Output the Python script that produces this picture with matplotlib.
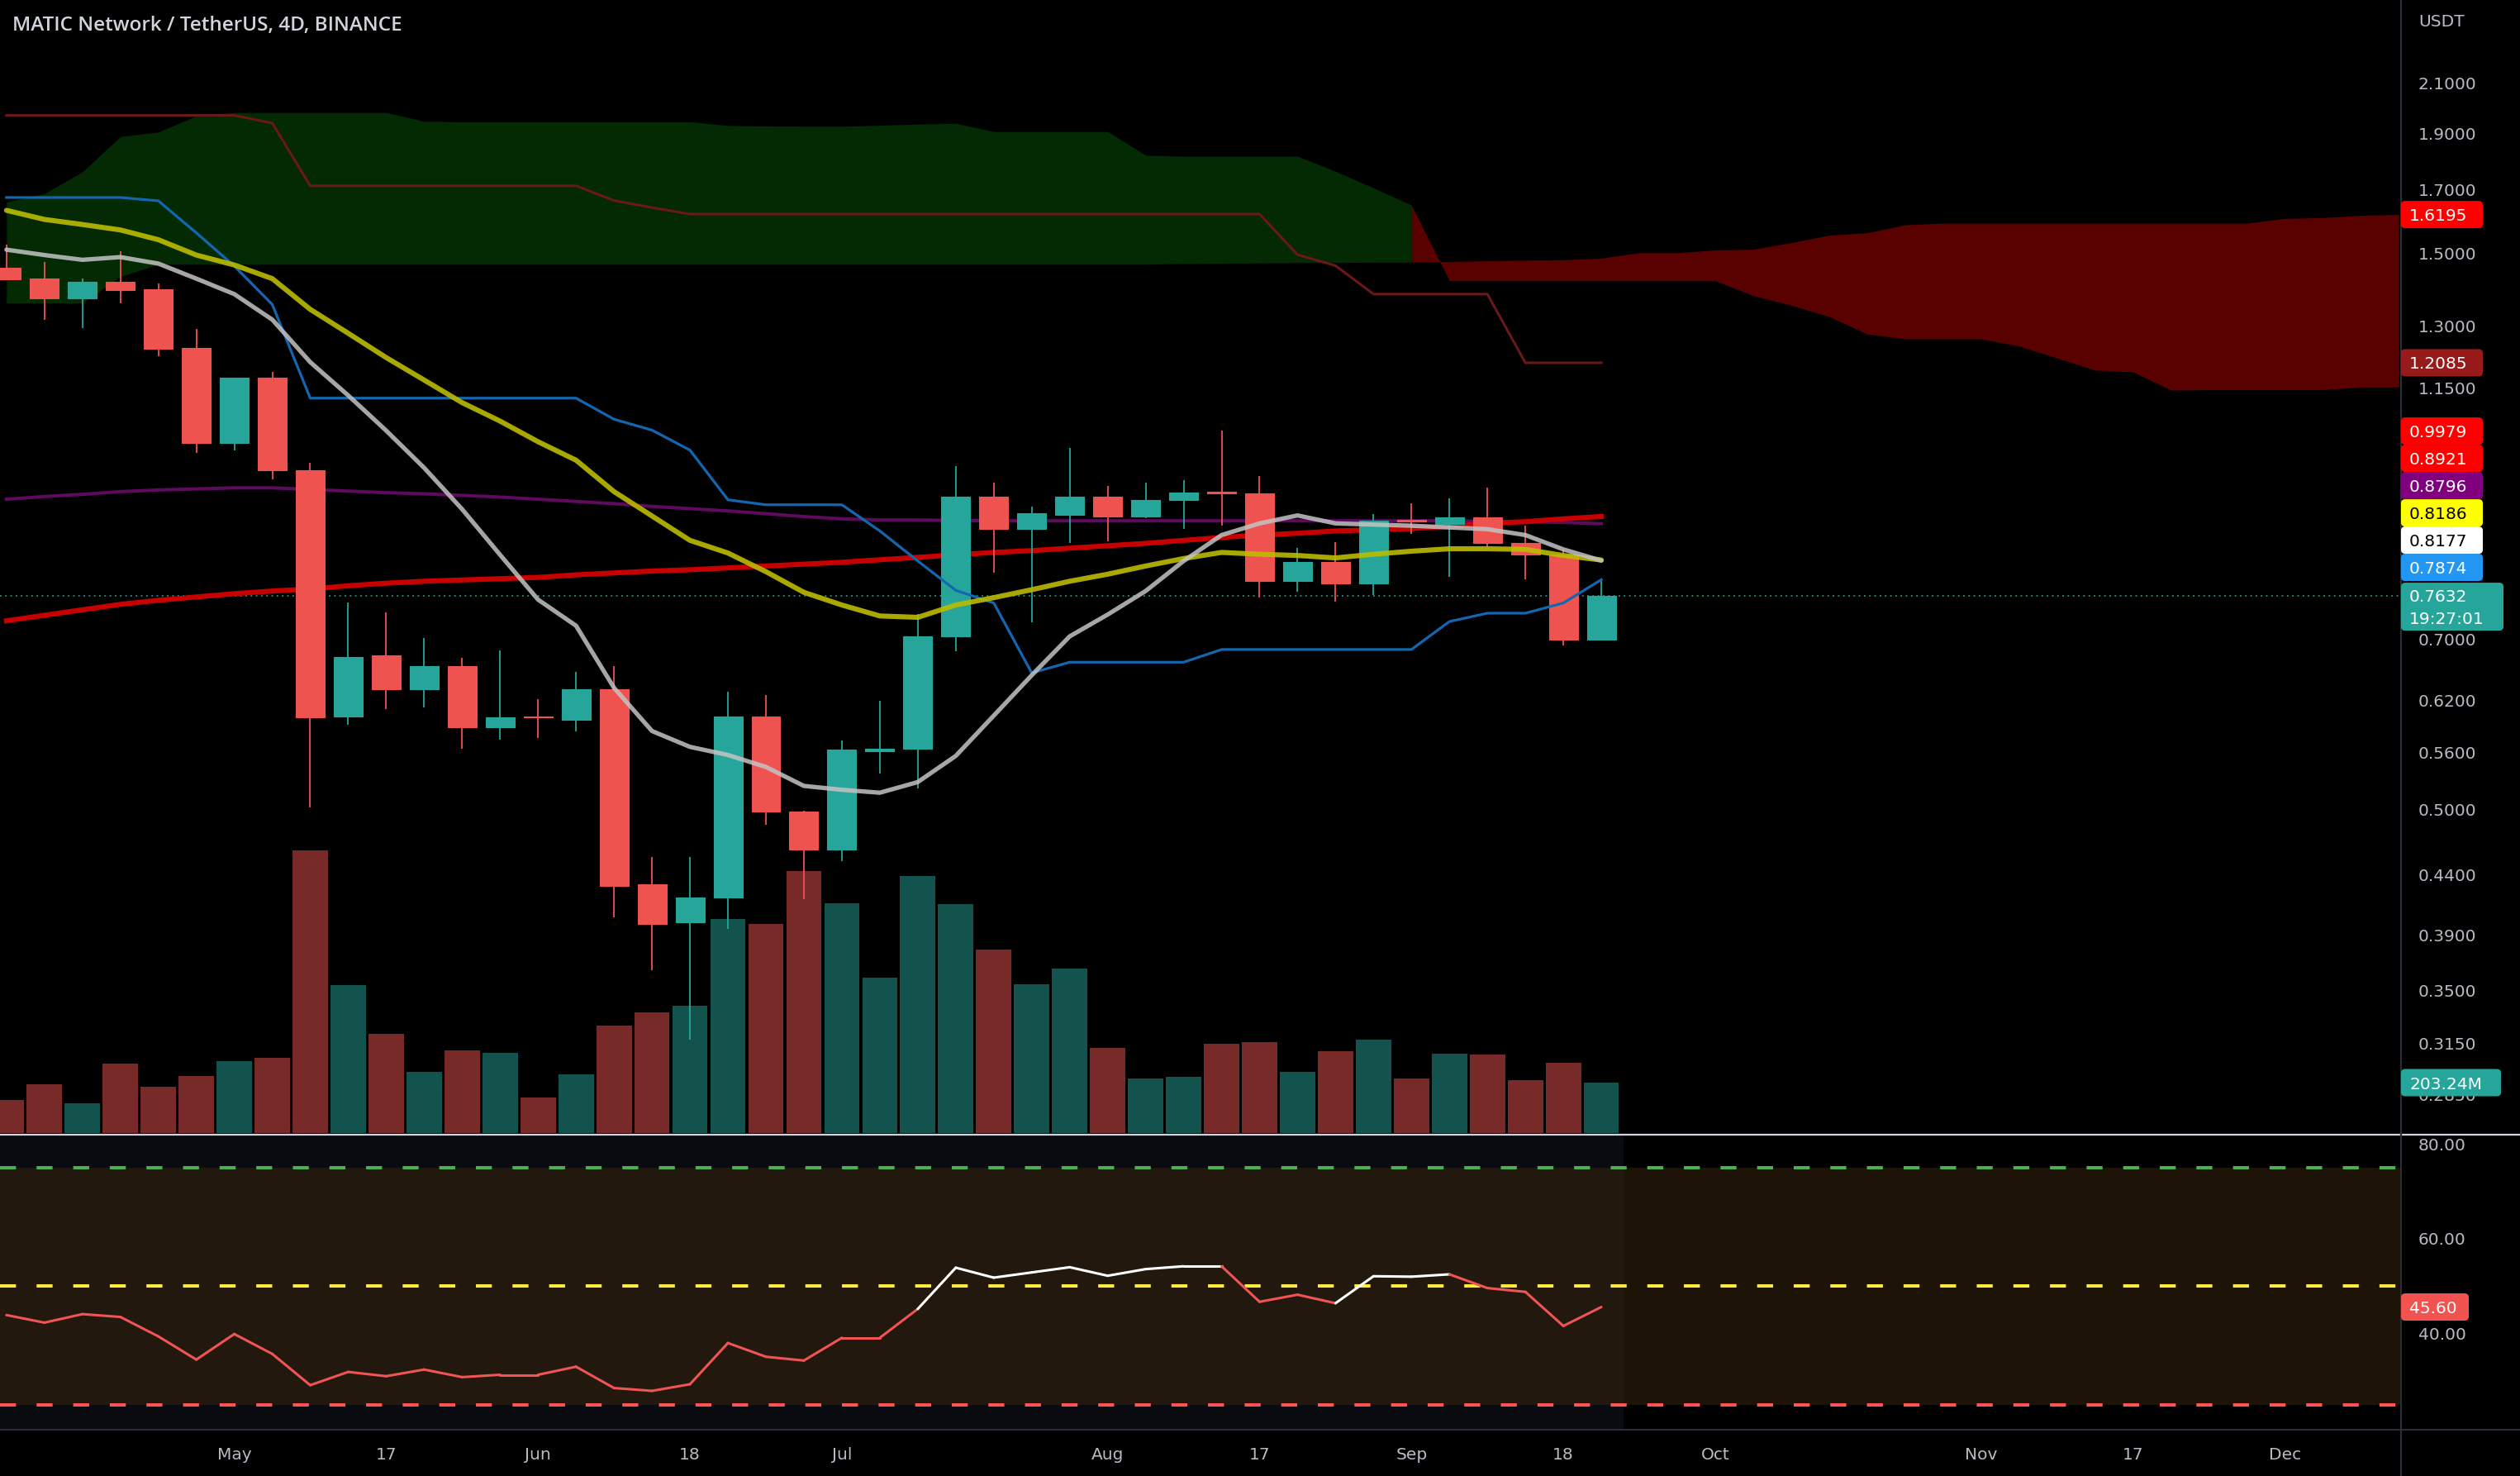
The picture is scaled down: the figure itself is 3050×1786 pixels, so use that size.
import numpy as np
import matplotlib
matplotlib.use("Agg")
import matplotlib.pyplot as plt
import matplotlib.transforms as mtransforms
from matplotlib.patches import FancyBboxPatch
from matplotlib.lines import Line2D
from matplotlib.collections import LineCollection

# ---------------- data ----------------
title = "MATIC Network / TetherUS, 4D, BINANCE"
opens = [1.458, 1.427, 1.373, 1.418, 1.397, 1.244, 1.032, 1.174, 0.978, 0.601,
         0.678, 0.634, 0.664, 0.588, 0.601, 0.5975, 0.634, 0.4315, 0.400, 0.4205,
         0.601, 0.498, 0.462, 0.561, 0.564, 0.704, 0.927, 0.871, 0.895, 0.928,
         0.8915, 0.922, 0.937, 0.934, 0.7855, 0.815, 0.782, 0.886, 0.8795, 0.8905,
         0.846, 0.828, 0.700]
highs = [1.525, 1.474, 1.427, 1.507, 1.413, 1.292, 1.174, 1.187, 0.992, 0.753,
         0.738, 0.702, 0.675, 0.685, 0.622, 0.6565, 0.664, 0.455, 0.455, 0.631,
         0.627, 0.499, 0.573, 0.620, 0.736, 0.986, 0.954, 0.910, 1.021, 0.948,
         0.953, 0.958, 1.0565, 0.9665, 0.839, 0.848, 0.896, 0.916, 0.925, 0.945,
         0.876, 0.836, 0.788]
lows = [1.423, 1.315, 1.295, 1.360, 1.225, 1.012, 1.016, 0.960, 0.502, 0.591,
        0.610, 0.612, 0.564, 0.5745, 0.576, 0.584, 0.404, 0.364, 0.3175, 0.395,
        0.4855, 0.419, 0.452, 0.537, 0.521, 0.684, 0.798, 0.724, 0.847, 0.8495,
        0.889, 0.870, 0.8755, 0.760, 0.769, 0.7545, 0.764, 0.862, 0.792, 0.8415,
        0.788, 0.692, 0.700]
closes = [1.426, 1.373, 1.418, 1.396, 1.243, 1.032, 1.174, 0.977, 0.600, 0.676,
          0.634, 0.664, 0.588, 0.600, 0.5995, 0.634, 0.430, 0.399, 0.4205, 0.601,
          0.498, 0.462, 0.563, 0.564, 0.704, 0.927, 0.871, 0.898, 0.928, 0.8915,
          0.922, 0.936, 0.934, 0.7855, 0.815, 0.782, 0.885, 0.883, 0.8905, 0.846,
          0.828, 0.700, 0.7632]
volumes_m = [133, 197, 120, 281, 187, 230, 290, 303, 1139, 596,
             400, 248, 333, 323, 143, 237, 433, 486, 513, 863,
             843, 1056, 926, 626, 1036, 923, 740, 600, 663, 343,
             220, 227, 360, 366, 247, 330, 376, 220, 320, 316,
             213, 283, 203.24]
ma_gray = [1.511, 1.495, 1.481, 1.489, 1.470, 1.427, 1.384, 1.316, 1.210, 1.133,
           1.057, 0.982, 0.905, 0.827, 0.757, 0.719, 0.636, 0.584, 0.566, 0.557,
           0.544, 0.524, 0.520, 0.517, 0.528, 0.556, 0.602, 0.652, 0.704, 0.735,
           0.770, 0.817, 0.860, 0.880, 0.894, 0.880, 0.878, 0.876, 0.873, 0.870,
           0.860, 0.836, 0.8177]
ma_yellow = [1.633, 1.604, 1.588, 1.571, 1.541, 1.495, 1.466, 1.427, 1.343, 1.281,
             1.221, 1.168, 1.117, 1.077, 1.034, 0.997, 0.937, 0.893, 0.851, 0.830,
             0.800, 0.768, 0.749, 0.733, 0.731, 0.749, 0.760, 0.772, 0.785, 0.796,
             0.809, 0.821, 0.831, 0.828, 0.826, 0.822, 0.828, 0.833, 0.837, 0.837,
             0.836, 0.826, 0.8186]
ma_purple = [0.923, 0.928, 0.932, 0.937, 0.940, 0.942, 0.944, 0.944, 0.941, 0.938,
             0.935, 0.933, 0.930, 0.927, 0.923, 0.919, 0.915, 0.910, 0.906, 0.902,
             0.897, 0.892, 0.888, 0.886, 0.886, 0.885, 0.8845, 0.8845, 0.8845, 0.8845,
             0.8845, 0.8845, 0.8845, 0.8845, 0.8845, 0.8845, 0.8845, 0.8845, 0.8845, 0.8836,
             0.8827, 0.8817, 0.8796]
ma_red = [0.726, 0.734, 0.742, 0.750, 0.756, 0.761, 0.766, 0.770, 0.773, 0.778,
          0.782, 0.785, 0.787, 0.789, 0.791, 0.795, 0.798, 0.801, 0.803, 0.806,
          0.809, 0.812, 0.815, 0.819, 0.823, 0.827, 0.831, 0.834, 0.838, 0.842,
          0.846, 0.851, 0.856, 0.860, 0.863, 0.867, 0.869, 0.871, 0.875, 0.880,
          0.883, 0.888, 0.8921]
tenkan = [1.675, 1.675, 1.675, 1.675, 1.664, 1.562, 1.463, 1.356, 1.127, 1.127,
          1.127, 1.127, 1.127, 1.127, 1.127, 1.127, 1.081, 1.058, 1.017, 0.922,
          0.913, 0.913, 0.913, 0.867, 0.817, 0.771, 0.752, 0.655, 0.669, 0.669,
          0.669, 0.669, 0.686, 0.686, 0.686, 0.686, 0.686, 0.686, 0.725, 0.737,
          0.737, 0.752, 0.7874]
kijun = [1.970, 1.970, 1.970, 1.970, 1.970, 1.970, 1.970, 1.940, 1.714, 1.714,
         1.714, 1.714, 1.714, 1.714, 1.714, 1.714, 1.665, 1.642, 1.621, 1.621,
         1.621, 1.621, 1.621, 1.621, 1.621, 1.621, 1.621, 1.621, 1.621, 1.621,
         1.621, 1.621, 1.621, 1.621, 1.496, 1.464, 1.384, 1.384, 1.384, 1.384,
         1.2085, 1.2085, 1.2085]
# leading spans (already displaced forward), bars 0..63
span_a = [1.660, 1.688, 1.762, 1.889, 1.906, 1.968, 1.981, 1.981, 1.981, 1.981,
          1.981, 1.947, 1.945, 1.945, 1.945, 1.945, 1.945, 1.945, 1.945, 1.931,
          1.929, 1.928, 1.928, 1.932, 1.936, 1.939, 1.908, 1.908, 1.908, 1.908,
          1.821, 1.817, 1.817, 1.817, 1.817, 1.764, 1.707, 1.650, 1.421, 1.421,
          1.421, 1.421, 1.421, 1.421, 1.421, 1.421, 1.380, 1.354, 1.324, 1.279,
          1.267, 1.267, 1.267, 1.249, 1.220, 1.191, 1.187, 1.145, 1.146, 1.146,
          1.146, 1.146, 1.152, 1.152]
span_b = [1.360, 1.360, 1.360, 1.433, 1.468, 1.468, 1.468, 1.468, 1.468, 1.468,
          1.468, 1.468, 1.468, 1.468, 1.468, 1.468, 1.468, 1.468, 1.468, 1.468,
          1.468, 1.468, 1.468, 1.468, 1.468, 1.468, 1.468, 1.468, 1.468, 1.468,
          1.468, 1.470, 1.471, 1.472, 1.473, 1.473, 1.474, 1.474, 1.476, 1.478,
          1.480, 1.481, 1.486, 1.502, 1.502, 1.510, 1.512, 1.532, 1.555, 1.562,
          1.587, 1.592, 1.592, 1.592, 1.592, 1.592, 1.592, 1.592, 1.592, 1.592,
          1.607, 1.610, 1.617, 1.6195]
rsi = [43.9, 42.3, 44.1, 43.5, 39.4, 34.5, 39.9, 35.7, 29.1, 31.9,
       31.0, 32.4, 30.8, 31.3, 31.3, 33.0, 28.5, 27.9, 29.3, 38.0,
       35.1, 34.3, 39.1, 39.1, 45.2, 53.9, 51.8, 52.9, 54.0, 52.2,
       53.6, 54.2, 54.2, 46.7, 48.2, 46.4, 52.1, 52.0, 52.5, 49.6,
       48.8, 41.6, 45.6]
extra_level = 0.9979
last_time = "19:27:01"
price_ticks = [2.1, 1.9, 1.7, 1.5, 1.3, 1.15, 0.7, 0.62, 0.56, 0.5, 0.44, 0.39, 0.35, 0.315, 0.285]
rsi_ticks = [80, 60, 40]
rsi_levels = [75, 50, 25]
date_labels = ["May", "17", "Jun", "18", "Jul", "Aug", "17", "Sep", "18", "Oct", "Nov", "17", "Dec"]
date_pos = [6, 10, 14, 18, 22, 29, 33, 37, 41, 45, 52, 56, 60]

# ---------------- layout ----------------
W, H, DPI = 3050, 1786, 100
PLOT_R = 2906
MAIN_BOT = 1371
RSI_TOP, RSI_BOT = 1374, 1730
XLIM = (-0.17, 63.06)
PRICE_LIM = (0.2640, 2.474)
VOL_YMAX = 4568
RSI_LIM = (19.7, 81.8)
AX_TXT = '#b8bbc4'
UP, DN = '#26a69a', '#ef5350'
FS = 14.5

plt.rcParams['font.family'] = ['DejaVu Sans']

fig = plt.figure(figsize=(W / DPI, H / DPI), dpi=DPI, facecolor='black')


def frac(x0, y0, x1, y1):
    return [x0 / W, 1 - y1 / H, (x1 - x0) / W, (y1 - y0) / H]


ax_vol = fig.add_axes(frac(0, 0, PLOT_R, MAIN_BOT))
ax = fig.add_axes(frac(0, 0, PLOT_R, MAIN_BOT))
ax_r = fig.add_axes(frac(0, RSI_TOP, PLOT_R, RSI_BOT))
for a in (ax_vol, ax, ax_r):
    a.set_xlim(*XLIM)
    a.axis('off')

x = np.arange(len(closes))
o, h, l, c = map(np.array, (opens, highs, lows, closes))
up = c >= o

# volume
ax_vol.set_ylim(0, VOL_YMAX)
ax_vol.bar(x, volumes_m, width=0.93, color=np.where(up, '#13534d', '#782a28'), linewidth=0)

# main pane
ax.set_yscale('log')
ax.set_ylim(*PRICE_LIM)

# ichimoku cloud
xs = np.arange(len(span_a))
A, B = np.array(span_a), np.array(span_b)
seg_green = A[1:] > B[1:]
start = 0
for k in range(1, len(seg_green) + 1):
    if k == len(seg_green) or seg_green[k] != seg_green[start]:
        sl = slice(start, k + 1)
        ax.fill_between(xs[sl], A[sl], B[sl], color='#032a03' if seg_green[start] else '#590000',
                        lw=0, zorder=1)
        start = k

# lines
ax.plot(x, ma_purple, color='#5e0b5e', lw=2.9, zorder=3)
ax.plot(x, ma_red, color='#c80000', lw=4.4, zorder=3)
ax.plot(x, kijun, color='#6b1818', lw=2.2, zorder=3)

# last price dotted line
ax.axhline(closes[-1], color=UP, lw=1.3, ls=(0, (1, 2.5)), alpha=0.9, zorder=2)

# candles
cols = np.where(up, UP, DN)
ax.vlines(x, l, h, colors=cols, lw=1.3, zorder=4)
ax.bar(x, np.maximum(o, c) - np.minimum(o, c), bottom=np.minimum(o, c), width=0.76,
       color=cols, edgecolor=cols, linewidth=0.8, zorder=5)

ax.plot(x, tenkan, color='#1267b0', lw=2.3, zorder=6)
ax.plot(x, ma_yellow, color='#bcbc00', lw=4.4, alpha=0.9, zorder=6, solid_capstyle='round')
ax.plot(x, ma_gray, color='#c4c4c4', lw=3.8, alpha=0.85, zorder=6, solid_capstyle='round')

# RSI pane
ax_r.set_ylim(*RSI_LIM)
split = 42.58
ax_r.fill_between([XLIM[0], split], RSI_LIM[0], RSI_LIM[1], color='#090b10', lw=0, zorder=0)
ax_r.fill_between([XLIM[0], split], rsi_levels[2], rsi_levels[0], color='#23180d', lw=0, zorder=1)
ax_r.fill_between([split, XLIM[1]], rsi_levels[2], rsi_levels[0], color='#1e1307', lw=0, zorder=1)
for lev, col in zip(rsi_levels, ['#4caf50', '#ffeb3b', '#ff5252']):
    ax_r.axhline(lev, color=col, lw=2.9, ls=(0, (4.8, 6.2)), zorder=2)
pts = np.column_stack([x, rsi])
segs = np.stack([pts[:-1], pts[1:]], axis=1)
rcols = ['#ffffff' if v > 50 else '#f05454' for v in rsi[1:]]
ax_r.add_collection(LineCollection(segs, colors=rcols, linewidths=2.2, zorder=3,
                                   capstyle='round', joinstyle='round'))

# separators
fig.add_artist(Line2D([0, 1], [1 - 1372.5 / H] * 2, transform=fig.transFigure, color='#d1d4dc', lw=1.6))
fig.add_artist(Line2D([0, 1], [1 - RSI_BOT / H] * 2, transform=fig.transFigure, color='#2a2e39', lw=1.5))
fig.add_artist(Line2D([PLOT_R / W] * 2, [0, 1], transform=fig.transFigure, color='#2a2e39', lw=1.5))

# title
fig.text(15 / W, 1 - 31 / H, title, color='#d1d4dc', fontsize=17.5, va='center', ha='left',
         family=['Open Sans', 'DejaVu Sans'], fontweight='semibold')

# axis texts
TX = 2927
bt_main = mtransforms.blended_transform_factory(fig.transFigure, ax.transData)
for p in price_ticks:
    fig.text(TX / W, p, f"{p:.4f}", transform=bt_main, color=AX_TXT, fontsize=FS,
             va='center_baseline', ha='left', zorder=5)
fig.text(TX / W, 1 - 25 / H, "USDT", color=AX_TXT, fontsize=FS, va='center_baseline', ha='left')
bt_rsi = mtransforms.blended_transform_factory(fig.transFigure, ax_r.transData)
for t in rsi_ticks:
    fig.text(TX / W, t, f"{t:.2f}", transform=bt_rsi, color=AX_TXT, fontsize=FS,
             va='center_baseline', ha='left', zorder=5)
bt_date = mtransforms.blended_transform_factory(ax_r.transData, fig.transFigure)
for lab, pos in zip(date_labels, date_pos):
    fig.text(pos, 1 - 1758 / H, lab, transform=bt_date, color=AX_TXT, fontsize=FS,
             va='center_baseline', ha='center')

# value badges on the price scale
IDT = mtransforms.IdentityTransform()


def ytop(axis, v):
    return H - axis.transData.transform((0, v))[1]


def badge(yc, w, hgt, bg, lines, fg):
    fig.add_artist(FancyBboxPatch((PLOT_R, H - (yc + hgt / 2)), w, hgt,
                                  boxstyle="round,pad=0,rounding_size=5", transform=IDT,
                                  fc=bg, ec='none', zorder=10))
    for i, s in enumerate(lines):
        fig.text(2916, H - (yc + i * 27), s, transform=IDT, color=fg, fontsize=FS,
                 va='center_baseline', ha='left', zorder=11)


BH = 33
badge(ytop(ax, span_b[-1]), 99, BH, '#ff0000', [f"{span_b[-1]:.4f}"], 'white')
badge(ytop(ax, kijun[-1]), 99, BH, '#981b1b', [f"{kijun[-1]:.4f}"], 'white')

y_last = ytop(ax, closes[-1])
badge(y_last + 13.5, 124, 58, UP, [], 'white')
for i, s in enumerate([f"{closes[-1]:.4f}", last_time]):
    fig.text(2916, H - (y_last + i * 27), s, transform=IDT, color='white', fontsize=FS,
             va='center_baseline', ha='left', zorder=11)
stack = [(tenkan[-1], '#2196f3', 'white'), (ma_gray[-1], '#ffffff', 'black'),
         (ma_yellow[-1], '#ffff00', 'black'), (ma_purple[-1], '#800080', 'white'),
         (ma_red[-1], '#ff0000', 'white'), (extra_level, '#ff0000', 'white')]
prev_top = y_last - 17.5
for v, bg, fg in stack:
    yc = min(ytop(ax, v), prev_top - BH / 2)
    badge(yc, 99, BH, bg, [f"{v:.4f}"], fg)
    prev_top = yc - BH / 2

badge(ytop(ax_vol, volumes_m[-1]), 121, BH, UP, [f"{volumes_m[-1]:.2f}M"], 'white')
badge(ytop(ax_r, rsi[-1]), 82, BH, '#f05350', [f"{rsi[-1]:.2f}"], 'white')

fig.savefig("out.png", dpi=DPI, facecolor='black')
